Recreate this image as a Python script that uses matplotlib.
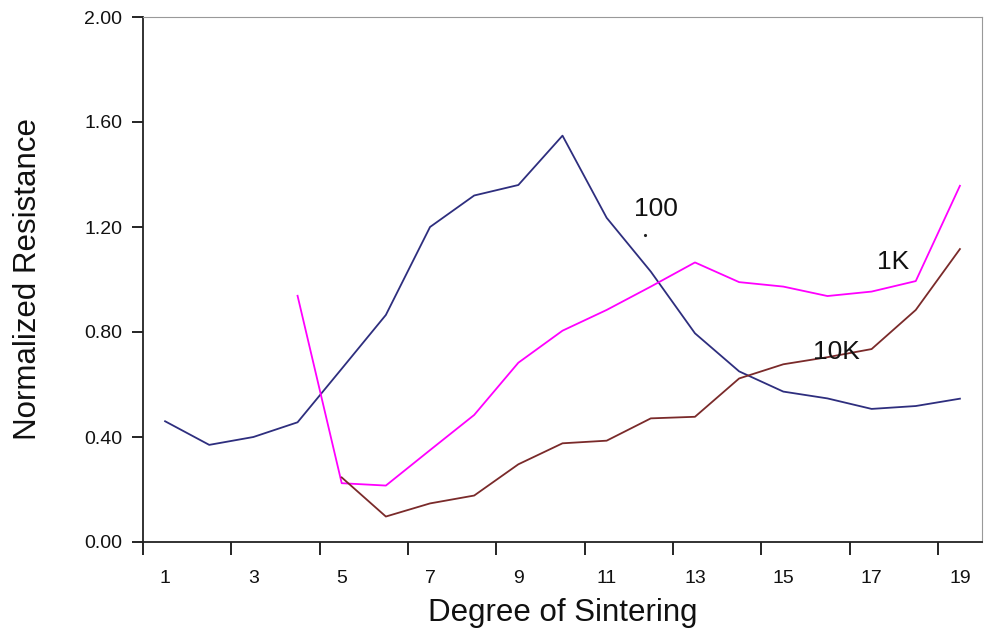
import matplotlib
matplotlib.use("Agg")
import matplotlib.pyplot as plt
import numpy as np

plt.rcParams['font.family'] = ['Liberation Sans', 'DejaVu Sans']

categories = list(range(1, 20))
r100 = [0.46, 0.37, 0.40, 0.456, 0.66, 0.865, 1.20, 1.32, 1.36, 1.548, 1.235,
        1.03, 0.795, 0.65, 0.573, 0.547, 0.507, 0.518, 0.546]
r1k = [None, None, None, 0.938, 0.224, 0.215, 0.35, 0.484, 0.683, 0.805, 0.884,
       0.973, 1.065, 0.99, 0.973, 0.937, 0.954, 0.994, 1.357]
r10k = [None, None, None, None, 0.246, 0.097, 0.147, 0.177, 0.296, 0.376, 0.386,
        0.471, 0.477, 0.623, 0.677, 0.704, 0.735, 0.884, 1.116]
yticks = [0.0, 0.4, 0.8, 1.2, 1.6, 2.0]
xticklabels = ['1', '3', '5', '7', '9', '11', '13', '15', '17', '19']

def arr(v):
    return np.array([np.nan if a is None else a for a in v], dtype=float)

fig = plt.figure(figsize=(9.84, 6.32), dpi=100)
ax = fig.add_axes([143/984, 1-542/632, (982-143)/984, (542-17)/632])

x = np.array(categories)
ax.plot(x, arr(r100), color='#2E2E7E', lw=1.3)
ax.plot(x, arr(r1k), color='#FF00FF', lw=1.3)
ax.plot(x, arr(r10k), color='#7A2A2A', lw=1.3)

ax.set_xlim(0.5, 19.5)
ax.set_ylim(0, 2.0)
ax.set_yticks(yticks)
ax.set_yticklabels([f"{v:.2f}" for v in yticks])
ax.set_xticks(np.arange(0.5, 19.5, 2.0))
ax.set_xticklabels([])
for xl, lab in zip(range(1, 20, 2), xticklabels):
    ax.text(xl, -0.14, lab, ha='center', va='center', fontsize=14,
            transform=ax.transData, clip_on=False, color='#111111')

ax.tick_params(axis='y', direction='out', length=8, width=1.2, pad=7,
               labelsize=14, labelcolor='#111111')
ax.tick_params(axis='x', direction='out', length=9, width=1.2)

for s in ['left', 'bottom']:
    ax.spines[s].set_linewidth(1.3)
    ax.spines[s].set_color('#222222')
for s in ['top', 'right']:
    ax.spines[s].set_linewidth(0.8)
    ax.spines[s].set_color('#999999')

ax.set_xlabel('Degree of Sintering', fontsize=22.5, labelpad=28, color='#111111')
ax.set_ylabel('Normalized Resistance', fontsize=22.5, color='#111111')
ax.yaxis.set_label_coords(-0.119, 0.5)

ax.text(12.12, 1.27, '100', fontsize=19, ha='center', va='center', color='#111111')
ax.plot([11.87], [1.17], marker='.', color='#222222', ms=2.5)
ax.text(17.49, 1.065, '1K', fontsize=19, ha='center', va='center', color='#111111')
ax.text(16.2, 0.725, '10K', fontsize=19, ha='center', va='center', color='#111111')

fig.savefig('out.png', dpi=100)
